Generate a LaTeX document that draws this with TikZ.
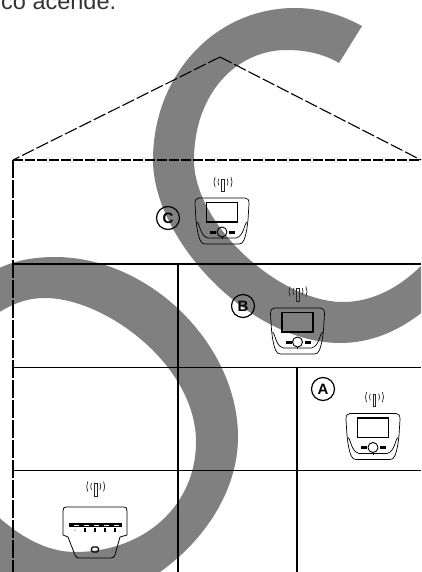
\documentclass[tikz,border=0pt]{standalone}
\usepackage{fontspec}
\setmainfont{Liberation Sans}
\usepackage{tikz}
\definecolor{bandgray}{gray}{0.5}
\definecolor{captiongray}{gray}{0.2}
\tikzset{
  wall/.style={line width=1.2pt,black},
  roofline/.style={line width=1.1pt,black,dash pattern=on 13pt off 3pt},
  eaveline/.style={line width=1.5pt,black,dash pattern=on 9.5pt off 2.5pt},
  sideline/.style={line width=1.5pt,black,dash pattern=on 18pt off 2pt},
  band/.style={fill=bandgray,draw=none},
  lettermark/.style={circle,draw,line width=1.2pt,inner sep=0pt,minimum size=23pt,font=\bfseries\fontsize{15}{15}\selectfont},
  pics/wifi/.style={code={
    \draw[line width=0.7pt,black!85] (-1.2,-3) rectangle (1.2,9.5);
    \draw[line width=0.7pt,black!85] (-4.25,-3.4) arc[start angle=205,end angle=155,radius=8];
    \draw[line width=0.7pt,black!85] (-7.9,-5) arc[start angle=205,end angle=155,radius=12];
    \draw[line width=0.7pt,black!85] (4.25,-3.4) arc[start angle=-25,end angle=25,radius=8];
    \draw[line width=0.7pt,black!85] (7.9,-5) arc[start angle=-25,end angle=25,radius=12];
  }},
  pics/panel/.style={code={
    \draw[line width=0.7pt] (-23,-23) -- (23,-23) .. controls (26,-23) and (27,-21) .. (27,-17)
      -- (26,-1) .. controls (25,8) and (24,14) .. (22,19) .. controls (21,22) and (19,23) .. (17,23)
      -- (-17,23) .. controls (-19,23) and (-21,22) .. (-22,19) .. controls (-24,14) and (-25,8) .. (-26,-1)
      -- (-27,-17) .. controls (-27,-21) and (-26,-23) .. (-23,-23) -- cycle;
    \draw[line width=0.7pt] (-25,1) .. controls (-22,3) and (-22,15) .. (-14,17) -- (14,17) .. controls (22,15) and (22,3) .. (25,1);
    \draw[line width=1.2pt] (-15.5,-18.5) rectangle (15.5,1);
    \fill (-12,9.5) rectangle (-6,12.5);
    \fill (7,9.5) rectangle (13,12.5);
    \draw[line width=0.9pt] (0,11) circle (5);
    \draw[line width=0.5pt] (0,16) -- (0,18);
  }}
}
\begin{document}
\begin{tikzpicture}[x=1pt,y=-1pt]
\useasboundingbox (0,0) rectangle (421,572);
% background bands
\begin{scope}
\clip (0,0) rectangle (421,572);
\fill[band] (-5,270) .. controls (15,260) and (35,257) .. (55,257)
  .. controls (150,257) and (238,345) .. (238,437)
  .. controls (238,490) and (205,540) .. (160,572)
  -- (120,600) -- (-5,600) -- (-5,514)
  .. controls (18,535) and (45,552) .. (75,552)
  .. controls (145,552) and (196,505) .. (196,442)
  .. controls (196,365) and (105,298) .. (45,298)
  .. controls (25,298) and (10,305) .. (-5,315) -- cycle;
\fill[band] (362,26) .. controls (340,14) and (318,8) .. (295,8)
  .. controls (215,8) and (153,75) .. (153,160)
  .. controls (153,240) and (250,343) .. (340,343)
  .. controls (370,343) and (398,332) .. (425,310)
  -- (425,262) .. controls (400,288) and (372,302) .. (343,302)
  .. controls (280,302) and (194,225) .. (194,160)
  .. controls (194,95) and (235,50) .. (287,50)
  .. controls (306,50) and (324,54) .. (339,63) -- cycle;
\end{scope}
% house outline
\coordinate (eaveL) at (13,160);
\coordinate (eaveR) at (421,160);
\coordinate (ridge) at (220,57);
\coordinate (footL) at (13,572);
\draw[roofline] (ridge) -- (eaveL);
\draw[roofline] (ridge) -- (eaveR);
\draw[eaveline] (eaveL) -- (eaveR);
\draw[sideline] (eaveL) -- (footL);
% floors
\coordinate (f1L) at (13,264);
\coordinate (f1R) at (421,264);
\coordinate (f2L) at (13,367.5);
\coordinate (f2R) at (421,367.5);
\coordinate (f3L) at (13,470.5);
\coordinate (f3R) at (421,470.5);
\coordinate (w1T) at (178,264);
\coordinate (w1B) at (178,572);
\coordinate (w2T) at (297,367.5);
\coordinate (w2B) at (297,572);
\draw[wall] (f1L) -- (f1R);
\draw[wall] (f2L) -- (f2R);
\draw[wall] (f3L) -- (f3R);
\draw[wall] (w1T) -- (w1B);
\draw[wall] (w2T) -- (w2B);
% devices
\pic at (222,221) {panel};
\pic at (223,182) {wifi};
\pic at (297.5,331) {panel};
\pic at (298,291.5) {wifi};
\pic at (373,436.5) {panel};
\pic at (374.5,397) {wifi};
\pic at (95.7,486.5) {wifi};
% base station
\draw[line width=0.8pt] (66,507) -- (124,507) .. controls (126,507) and (127,508) .. (127,511)
  -- (127,535) -- (120,537) -- (115,555) .. controls (114,557) and (113,558) .. (111,558)
  -- (79,558) .. controls (77,558) and (76,557) .. (75,555) -- (68,537) -- (63,535)
  -- (63,511) .. controls (63,508) and (64,507) .. (66,507) -- cycle;
\fill (69,523) rectangle (122,527);
\foreach \px in {74,84,94,104,114}{
  \draw[white,line width=0.7pt] (\px,525) -- ++(5,0);
}
\fill[black!30] (75,530) circle (1);
\foreach \px in {85,95,105,115}{
  \fill (\px-0.8,528) rectangle (\px+0.8,532);
}
\draw[line width=1.3pt,rounded corners=1.5pt] (91.5,547) rectangle (98.5,552);
% labels
\node[lettermark] (markC) at (168,218) {C};
\node[lettermark] (markB) at (243,306) {B};
\node[lettermark] (markA) at (323,389) {A};
\node[text=captiongray,font=\fontsize{23.5}{24}\selectfont,anchor=base west,inner sep=0pt] (caption) at (1,10) {co acende.};
\end{tikzpicture}
\end{document}
